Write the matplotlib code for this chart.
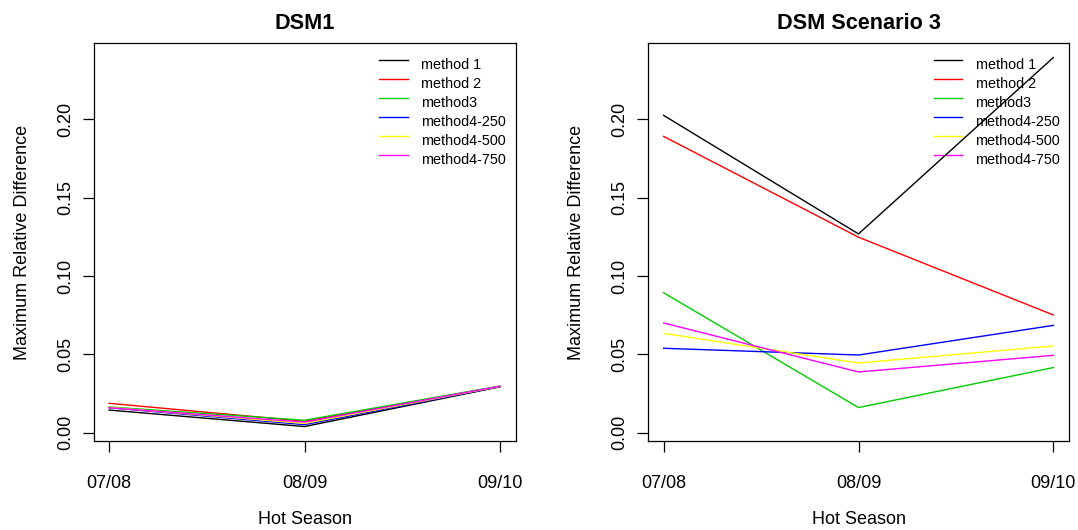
import matplotlib
matplotlib.use("Agg")
import matplotlib.pyplot as plt
import numpy as np

plt.rcParams['font.family'] = ['Liberation Sans', 'DejaVu Sans']

seasons = ["07/08", "08/09", "09/10"]
methods = ["method 1", "method 2", "method3", "method4-250", "method4-500", "method4-750"]
colors = ["#000000", "#FF0000", "#00CD00", "#0000FF", "#FFFF00", "#FF00FF"]

# Maximum relative difference per hot season, DSM1
dsm1_m1 = [0.0145, 0.0040, 0.0293]
dsm1_m2 = [0.0188, 0.0074, 0.0296]
dsm1_m3 = [0.0165, 0.0080, 0.0298]
dsm1_m4_250 = [0.0160, 0.0052, 0.0295]
dsm1_m4_500 = [0.0162, 0.0060, 0.0296]
dsm1_m4_750 = [0.0160, 0.0068, 0.0297]

# Maximum relative difference per hot season, DSM Scenario 3
dsm3_m1 = [0.2024, 0.1268, 0.2393]
dsm3_m2 = [0.1890, 0.1247, 0.0751]
dsm3_m3 = [0.0893, 0.0161, 0.0416]
dsm3_m4_250 = [0.0539, 0.0496, 0.0685]
dsm3_m4_500 = [0.0634, 0.0445, 0.0554]
dsm3_m4_750 = [0.0700, 0.0388, 0.0494]

panels = [
    ("DSM1", [dsm1_m1, dsm1_m2, dsm1_m3, dsm1_m4_250, dsm1_m4_500, dsm1_m4_750]),
    ("DSM Scenario 3", [dsm3_m1, dsm3_m2, dsm3_m3, dsm3_m4_250, dsm3_m4_500, dsm3_m4_750]),
]

# shared y range with a 4% margin on both sides
all_vals = np.concatenate([np.ravel(s) for _, ser in panels for s in ser])
lo, hi = all_vals.min(), all_vals.max()
pad = 0.04 * (hi - lo)
ylim = (lo - pad, hi + pad)
x = np.arange(1, len(seasons) + 1)
xlim = (1 - 0.04 * (len(seasons) - 1), len(seasons) + 0.04 * (len(seasons) - 1))

W, H = 1078, 530
fig = plt.figure(figsize=(W / 100, H / 100), dpi=100)

axes_px = [(93.5, 515.5), (648.0, 1069.0)]
top_px, bot_px = 42.7, 441.3

for (title, series), (x0, x1) in zip(panels, axes_px):
    ax = fig.add_axes([x0 / W, 1 - bot_px / H, (x1 - x0) / W, (bot_px - top_px) / H])
    ax.set_xlim(*xlim)
    ax.set_ylim(*ylim)

    # legend without a frame, drawn underneath the data lines
    fs_leg = 10.4
    for i, (name, col) in enumerate(zip(methods, colors)):
        ly = 60.3 + i * 18.9
        lx0, lx1 = 379 + (x0 - 93.5), 407.7 + (x0 - 93.5)
        ax.plot([(lx0 - x0) / (x1 - x0), (lx1 - x0) / (x1 - x0)],
                [1 - (ly - top_px) / (bot_px - top_px)] * 2,
                transform=ax.transAxes, color=col, lw=1.0, zorder=1, clip_on=False)
        ax.text((421 + (x0 - 93.5) - x0) / (x1 - x0),
                1 - (ly + 5 - top_px) / (bot_px - top_px),
                name, transform=ax.transAxes, fontsize=fs_leg, va='center', ha='left', zorder=1)

    for s, col in zip(series, colors):
        ax.plot(x, s, color=col, lw=1.0, zorder=3)

    ax.set_xticks(x)
    ax.set_xticklabels(seasons)
    ax.set_yticks([0.0, 0.05, 0.10, 0.15, 0.20])
    ax.set_yticklabels(["0.00", "0.05", "0.10", "0.15", "0.20"], rotation=90, va='center')
    ax.tick_params(axis='both', length=8, width=0.9, labelsize=13, direction='out')
    ax.tick_params(axis='x', pad=16)
    ax.tick_params(axis='y', pad=6)
    for sp in ax.spines.values():
        sp.set_linewidth(0.9)
    ax.set_title(title, fontsize=15.6, fontweight='bold', pad=10)
    ax.set_xlabel("Hot Season", fontsize=13, labelpad=14)
    ax.set_ylabel("Maximum Relative Difference", fontsize=13, labelpad=19)

fig.savefig("out.png", dpi=100)
